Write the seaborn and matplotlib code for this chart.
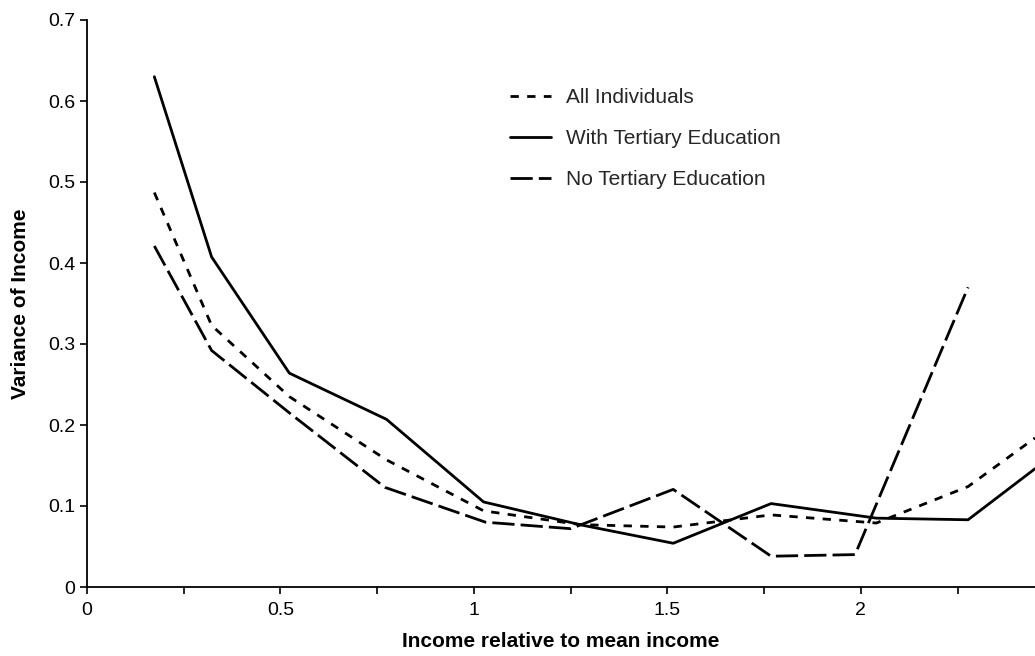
"""Variance of income vs income relative to mean income, by education group."""

import matplotlib
matplotlib.use("Agg")
import matplotlib.pyplot as plt
import numpy as np
import pandas as pd
import seaborn as sns

# --- données ---
x_all = [0.174, 0.322, 0.523, 0.774, 1.025, 1.275, 1.515, 1.768, 2.04, 2.277, 2.45]
y_all = [0.487, 0.323, 0.235, 0.157, 0.094, 0.077, 0.074, 0.089, 0.079, 0.124, 0.184]

x_tert = [0.174, 0.322, 0.523, 0.774, 1.025, 1.278, 1.515, 1.768, 2.04, 2.277, 2.45]
y_tert = [0.630, 0.4075, 0.264, 0.207, 0.105, 0.0765, 0.054, 0.103, 0.085, 0.083, 0.146]

x_none = [0.174, 0.322, 0.523, 0.770, 1.030, 1.250, 1.515, 1.768, 1.985, 2.277]
y_none = [0.421, 0.292, 0.215, 0.123, 0.080, 0.072, 0.1205, 0.038, 0.040, 0.370]

series = ["All Individuals", "With Tertiary Education", "No Tertiary Education"]

x_ticks = [0, 0.25, 0.5, 0.75, 1, 1.25, 1.5, 1.75, 2, 2.25]
x_ticklabels = ["0", "", "0.5", "", "1", "", "1.5", "", "2", ""]
y_ticks = [0, 0.1, 0.2, 0.3, 0.4, 0.5, 0.6, 0.7]
y_ticklabels = ["0", "0.1", "0.2", "0.3", "0.4", "0.5", "0.6", "0.7"]

df = pd.concat([
    pd.DataFrame({"x": x_all, "y": y_all, "group": series[0]}),
    pd.DataFrame({"x": x_tert, "y": y_tert, "group": series[1]}),
    pd.DataFrame({"x": x_none, "y": y_none, "group": series[2]}),
], ignore_index=True)

sns.set_theme(style="ticks")
plt.rcParams["font.family"] = ["Liberation Sans", "DejaVu Sans"]

fig = plt.figure(figsize=(10.35, 6.56), dpi=100)
ax = fig.add_axes([87 / 1035, (656 - 587) / 656, (1035 - 87) / 1035, (587 - 20) / 656])

sns.lineplot(data=df, x="x", y="y", hue="group", style="group",
             hue_order=series, style_order=series,
             palette={s: "black" for s in series},
             dashes={series[0]: (3, 3), series[1]: "", series[2]: (8, 2.2)},
             sort=False, estimator=None, lw=2.0, ax=ax)

ax.set_xlim(0, 2.45)
ax.set_ylim(0, 0.7)
ax.set_xticks(x_ticks)
ax.set_xticklabels(x_ticklabels)
ax.set_yticks(y_ticks)
ax.set_yticklabels(y_ticklabels)
ax.tick_params(axis="both", labelsize=14, length=5, width=1.2, color="black",
               labelcolor="black", direction="out")
ax.tick_params(axis="x", pad=6)

for side in ("top", "right"):
    ax.spines[side].set_visible(False)
for side in ("left", "bottom"):
    ax.spines[side].set_color("black")
    ax.spines[side].set_linewidth(1.3)

ax.set_xlabel("Income relative to mean income", fontsize=15, fontweight="bold",
              labelpad=9, color="black")
ax.set_ylabel("Variance of Income", fontsize=15, fontweight="bold",
              labelpad=13, color="black")

ax.legend(frameon=False, loc="upper left", bbox_to_anchor=(0.446, 0.880),
          borderpad=0, borderaxespad=0, fontsize=15, handlelength=2.0,
          handletextpad=0.72, labelspacing=1.06)

fig.savefig("out.png", dpi=100)
plt.close(fig)
